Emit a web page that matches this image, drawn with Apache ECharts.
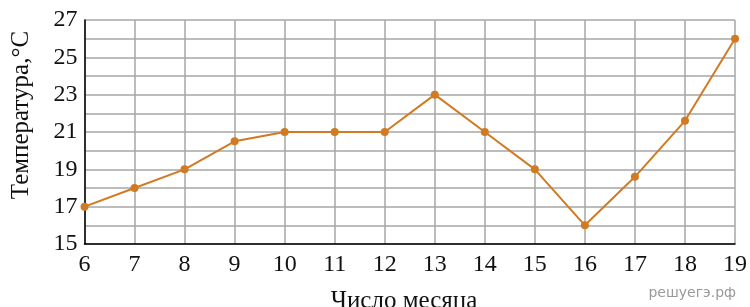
<!DOCTYPE html>
<html>
<head>
<meta charset="utf-8">
<script src="https://cdn.jsdelivr.net/npm/echarts@6/dist/echarts.min.js"></script>
<style>
  html, body { margin: 0; padding: 0; background: #fff; }
  #chart { width: 750px; height: 307px; }
</style>
</head>
<body>
<div id="chart"></div>
<script>
// число месяца
const days = [6, 7, 8, 9, 10, 11, 12, 13, 14, 15, 16, 17, 18, 19];
// температура, °C
const temps = [17, 18, 19, 20.5, 21, 21, 21, 23, 21, 19, 16, 18.6, 21.6, 26];
const yLabels = [15, 17, 19, 21, 23, 25, 27];

const chart = echarts.init(document.getElementById('chart'));
const serif = '"Liberation Serif", "Times New Roman", serif';
const gridColor = '#a6a6a6';

chart.setOption({
  animation: false,
  grid: { left: 84.5, right: 12.5, top: 20, bottom: 63 },
  xAxis: {
    type: 'value',
    min: 6, max: 19, interval: 1,
    axisLine: { show: true, onZero: false, lineStyle: { color: '#000', width: 1.5 } },
    axisTick: { show: false },
    axisLabel: { color: '#111', fontFamily: serif, fontSize: 24, margin: 9 },
    splitLine: { show: true, lineStyle: { color: gridColor, width: 1.5 } }
  },
  yAxis: {
    type: 'value',
    min: 15, max: 27, interval: 1,
    axisLine: { show: true, onZero: false, lineStyle: { color: '#000', width: 1.5 } },
    axisTick: { show: false },
    axisLabel: {
      color: '#111', fontFamily: serif, fontSize: 24, margin: 7,
      formatter: v => yLabels.includes(v) ? String(v) : ''
    },
    splitLine: { show: true, lineStyle: { color: gridColor, width: 1.5 } }
  },
  series: [{
    type: 'line',
    data: days.map((d, i) => [d, temps[i]]),
    symbol: 'circle',
    symbolSize: 8,
    lineStyle: { color: '#d27a22', width: 2 },
    itemStyle: { color: '#d27a22' },
    z: 5
  }],
  graphic: [
    {
      type: 'text',
      x: 21, y: 115, rotation: Math.PI / 2,
      style: {
        text: 'Температура,°C',
        font: '25px ' + serif,
        fill: '#111',
        align: 'center',
        verticalAlign: 'middle'
      }
    },
    {
      type: 'text',
      x: 404, y: 301,
      style: {
        text: 'Число месяца',
        font: '25px ' + serif,
        fill: '#111',
        align: 'center',
        verticalAlign: 'middle'
      }
    },
    {
      type: 'text',
      x: 736, y: 293,
      style: {
        text: 'решуегэ.рф',
        font: '14px "DejaVu Sans", sans-serif',
        fill: '#999',
        align: 'right',
        verticalAlign: 'middle'
      }
    }
  ]
});
</script>
</body>
</html>
